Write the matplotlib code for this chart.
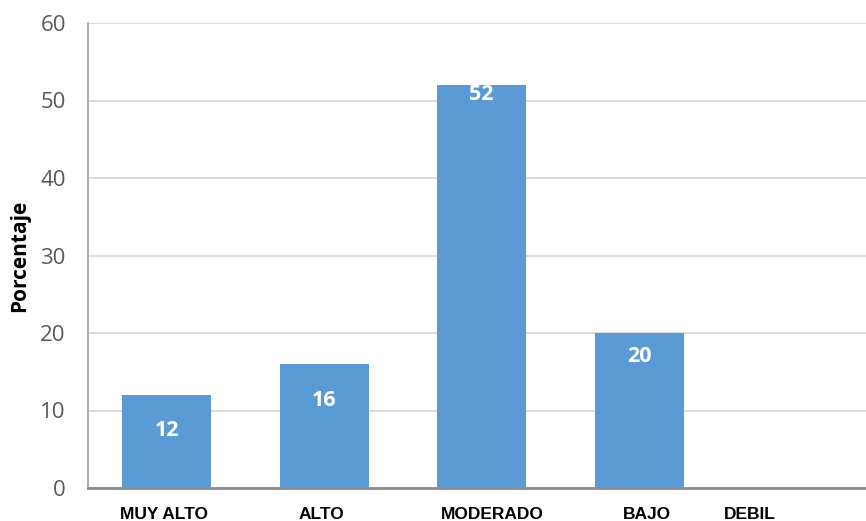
import matplotlib.pyplot as plt

categorias = ['MUY ALTO', 'ALTO', 'MODERADO', 'BAJO', 'DEBIL']
porcentajes = [12, 16, 52, 20, 0]
etiquetas = ['12', '16', '52', '20', '']

# offsets (in px) of the value labels below bar tops, and of the x labels
lab_off = [35, 36, 9, 24, 0]
xlab_off = [-3, -3, 11, 8, -47]

fig = plt.figure(figsize=(8.66, 5.21), dpi=100)
ax = fig.add_axes([88 / 866, 33 / 521, 787.5 / 866, 465 / 521])

x = list(range(len(categorias)))
ax.bar(x, porcentajes, width=0.565, color='#5b9bd5', zorder=3)

for xi, v, t, off in zip(x, porcentajes, etiquetas, lab_off):
    if t:
        ax.annotate(t, (xi, v), xytext=(0, -off * 0.72), textcoords='offset points',
                    ha='center', va='center', color='white', fontsize=15.5,
                    fontweight='bold', family='Open Sans', zorder=4)

for xi, c, off in zip(x, categorias, xlab_off):
    ax.annotate(c, (xi, 0), xycoords=('data', 'axes fraction'),
                xytext=(off * 0.72, -19), textcoords='offset points',
                ha='center', va='center', fontsize=12.5, fontweight='bold',
                family='Liberation Sans')

ax.set_xlim(-0.5, 4.5)
ax.set_ylim(0, 60)
ax.set_yticks(range(0, 61, 10))
ax.grid(axis='y', color='#d9d9d9', linewidth=1.3, zorder=0)

ax.set_xticks(x)
ax.set_xticklabels([])
ax.tick_params(axis='x', length=0)
ax.tick_params(axis='y', length=0, pad=16, labelsize=16, labelcolor='#595959')
for lab in ax.get_yticklabels():
    lab.set_family('Open Sans')

ax.set_ylabel('Porcentaje', fontsize=15, fontweight='bold', family='Open Sans', labelpad=7)

ax.spines['top'].set_visible(False)
ax.spines['right'].set_visible(False)
ax.spines['left'].set_color('#a6a6a6')
ax.spines['left'].set_linewidth(1.3)
ax.spines['bottom'].set_color('#8c8c8c')
ax.spines['bottom'].set_linewidth(2)

fig.savefig('out.png', dpi=100)
